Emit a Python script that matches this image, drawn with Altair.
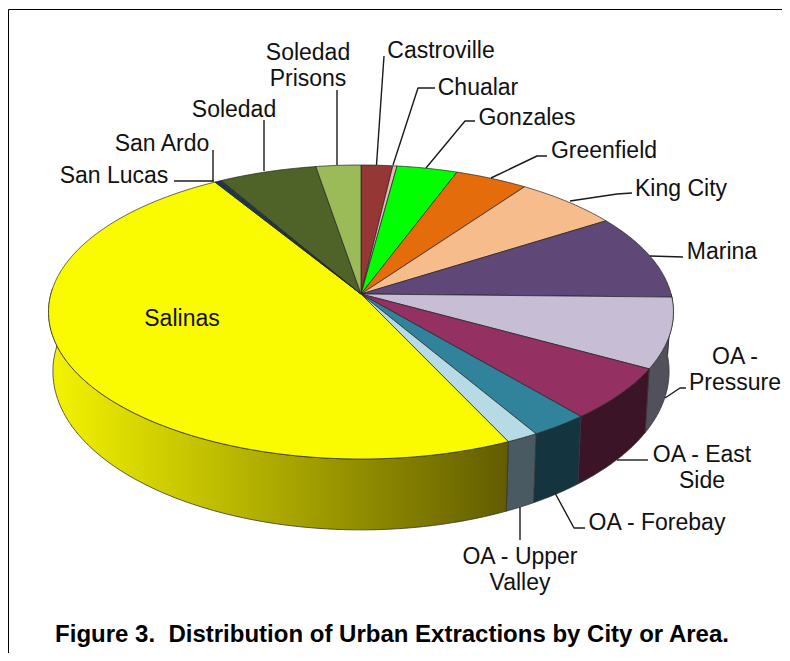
import numpy as np
import pandas as pd
import altair as alt

# ---- data (share of urban extractions, percent, clockwise from 12 o'clock)
categories = ["Castroville", "Chualar", "Gonzales", "Greenfield", "King City", "Marina",
              "OA - Pressure", "OA - East Side", "OA - Forebay", "OA - Upper Valley",
              "Salinas", "San Ardo", "San Lucas", "Soledad", "Soledad Prisons"]
values = [1.84, 0.24, 3.53, 4.24, 6.09, 9.40, 7.74, 5.81, 2.69, 1.48, 48.23, 0.20, 0.20, 5.70, 2.62]

# ---- styling
top_colors = ["#953735", "#E6B9B8", "#00FF00", "#E46C0A", "#F6BC8C", "#5F4877", "#C7BED6",
              "#953062", "#31839B", "#B7DBE5", "#FBFB00", "#17375E", "#1F3A4F", "#4F6228", "#9BBB59"]
wall_colors = ["#4A1B1A", "#736060", "#008000", "#723605", "#7B5E46", "#30243C", "#52505A",
               "#3B1428", "#14343F", "#4A5A62", None, "#0B1C2F", "#0F1D28", "#273114", "#4E5E2C"]
salinas_wall = alt.Gradient(gradient="linear", x1=0, x2=1, y1=0, y2=0,
                            stops=[alt.GradientStop(offset=0, color="#F4F400"),
                                   alt.GradientStop(offset=1, color="#625C00")])

# ---- 3-D projection of the pie disc
CX, CY = 361.0, 294.0
A, B, Q = 310.1, 144.8, 0.1224
SX, SY, DROP = 0.986, 1.078, 58.0


def rim(deg):
    t = np.radians(deg)
    u, v = np.sin(t), -np.cos(t)
    w = 1 - Q * v
    return A * u / w, B * v / w


def top_rim(deg):
    X, Y = rim(deg)
    return CX + X, CY + Y


def low_rim(deg):
    X, Y = rim(deg)
    return CX + X * SX, CY + Y * SY + DROP


xs = alt.Scale(domain=[8, 782], range=[0, 774], nice=False, zero=False)
ys = alt.Scale(domain=[8, 653], range=[0, 645], nice=False, zero=False)


def path(px, py, fill=None, stroke="#222222", sw=0.8):
    df = pd.DataFrame({"px": px, "py": py, "i": range(len(px))})
    kw = {"stroke": stroke, "strokeWidth": sw, "strokeJoin": "round"}
    if fill is not None:
        kw["fill"] = fill
    return alt.Chart(df).mark_line(**kw).encode(
        x=alt.X("px:Q", scale=xs, axis=None),
        y=alt.Y("py:Q", scale=ys, axis=None),
        order="i:Q",
    )


layers = []
edges = np.concatenate([[0], np.cumsum(values)]) * 3.6
edges[-1] = 360.0

# side walls (front half of the disc)
for k in range(len(values)):
    a0, a1 = max(edges[k], 90.0), min(edges[k + 1], 272.0)
    if a1 <= a0:
        continue
    t = np.linspace(a0, a1, max(int((a1 - a0) * 2), 2))
    ux, uy = top_rim(t)
    lx, ly = low_rim(t[::-1])
    px = np.concatenate([ux, lx, ux[:1]])
    py = np.concatenate([uy, ly, uy[:1]])
    fill = salinas_wall if wall_colors[k] is None else wall_colors[k]
    layers.append(path(px, py, fill=fill, stroke="#333333", sw=0.8))

# top face
for k in range(len(values)):
    t = np.linspace(edges[k], edges[k + 1], max(int((edges[k + 1] - edges[k]) * 2), 2))
    ux, uy = top_rim(t)
    px = np.concatenate([[CX], ux, [CX]])
    py = np.concatenate([[CY], uy, [CY]])
    layers.append(path(px, py, fill=top_colors[k], stroke="#222222", sw=0.7))

# leader lines
leaders = [
    ([337, 337], [90, 165]),
    ([264, 264], [120, 171]),
    ([213, 213], [150, 181]),
    ([174, 214], [181, 181]),
    ([384, 376.5], [56, 165]),
    ([435, 418, 393], [88, 88, 165]),
    ([475, 465, 426], [121, 121, 168]),
    ([547, 537, 491], [156, 156, 178]),
    ([632, 617, 570], [193, 194, 201]),
    ([683, 650], [257, 256]),
    ([686, 680, 665], [388, 388, 398]),
    ([648, 617], [460, 460]),
    ([555, 574, 585], [493, 528, 528]),
    ([520, 520], [507, 540]),
]
for lx, ly in leaders:
    layers.append(path(lx, ly, stroke="#1a1a1a", sw=1.4))

# frame
layers.append(path([8.5, 782], [9.5, 9.5], stroke="#000000", sw=1))
layers.append(path([8.5, 8.5], [9.5, 653], stroke="#000000", sw=1))

# labels (py is the first line of each label)
labels = pd.DataFrame({
    "t": ["Soledad\nPrisons", "Castroville", "Chualar", "Gonzales", "Greenfield", "King City", "Marina",
          "OA -\nPressure", "OA - East\nSide", "OA - Forebay", "OA - Upper\nValley",
          "San Ardo", "San Lucas", "Soledad", "Salinas"],
    "px": [308, 441, 478, 527, 604, 681, 722, 735, 702, 657, 520, 162, 114, 234, 182],
    "py": [52.5, 50.5, 87.5, 117.5, 150.5, 188.5, 251.5, 356.5, 454.5, 522.5, 556.5, 143.5, 175.5, 109.5, 318.5],
})
layers.append(alt.Chart(labels).mark_text(
    font="Liberation Sans", fontSize=23, lineBreak="\n", lineHeight=26,
    align="center", baseline="middle", color="#111111",
).encode(
    x=alt.X("px:Q", scale=xs, axis=None),
    y=alt.Y("py:Q", scale=ys, axis=None),
    text="t:N",
))

title = pd.DataFrame({"t": ["Figure 3.\u00a0 Distribution of Urban Extractions by City or Area."],
                      "px": [392], "py": [634.5]})
layers.append(alt.Chart(title).mark_text(
    font="Liberation Sans", fontSize=24, fontWeight="bold",
    align="center", baseline="middle", color="#000000",
).encode(
    x=alt.X("px:Q", scale=xs, axis=None),
    y=alt.Y("py:Q", scale=ys, axis=None),
    text="t:N",
))

chart = alt.layer(*layers).properties(
    width=774, height=645, padding=0, autosize=alt.AutoSizeParams(type="none"),
    background="#ffffff",
).configure_view(stroke=None)

chart.save("out.html", embed_options={"renderer": "svg", "actions": False})
